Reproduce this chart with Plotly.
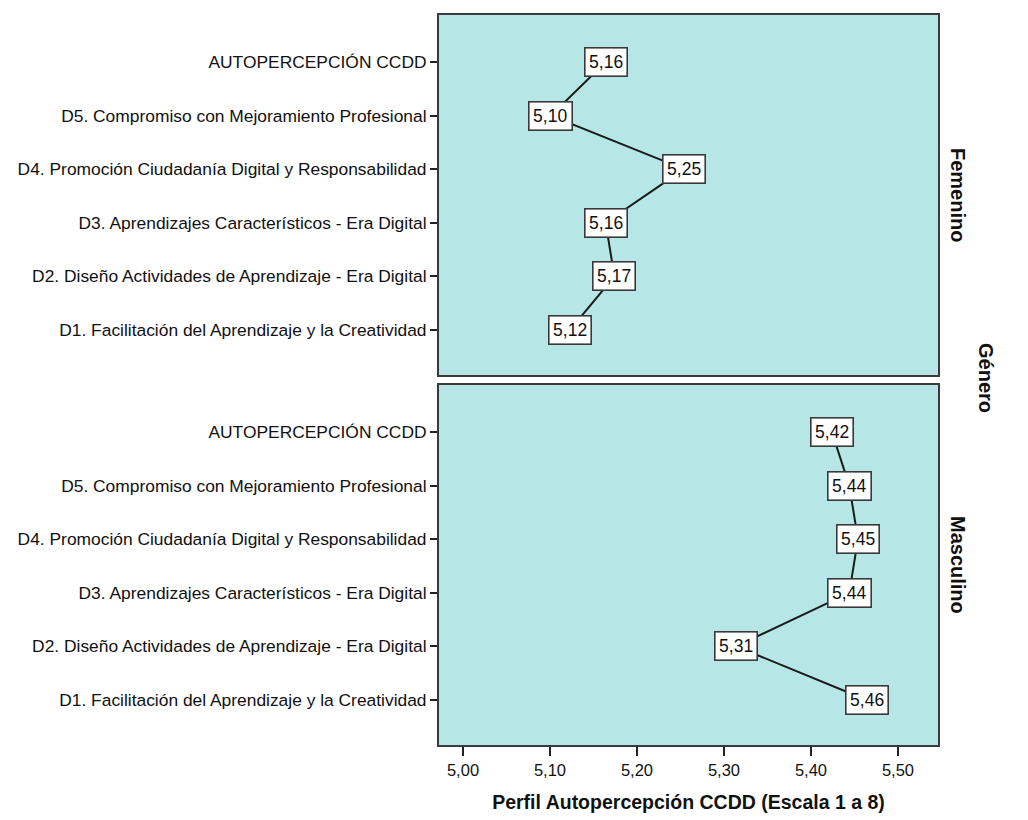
import plotly.graph_objects as go

categories = [
    "D1. Facilitación del Aprendizaje y la Creatividad",
    "D2. Diseño Actividades de Aprendizaje - Era Digital",
    "D3. Aprendizajes Característicos - Era Digital",
    "D4. Promoción Ciudadanía Digital y Responsabilidad",
    "D5. Compromiso con Mejoramiento Profesional",
    "AUTOPERCEPCIÓN CCDD",
]
# values estimated from label text and box positions
femenino = [5.123, 5.174, 5.164, 5.254, 5.101, 5.164]
masculino = [5.464, 5.314, 5.444, 5.454, 5.444, 5.424]
groups = ["Femenino", "Masculino"]
x_ticks = [5.00, 5.10, 5.20, 5.30, 5.40, 5.50]

FONT = "Liberation Sans, Arial, sans-serif"
OFF = 8  # default page body margin
W, H = 1020, 812
fig = go.Figure()

def px2x(p):
    return (p - OFF) / W

def px2y(p):
    return 1 - (p - OFF) / H

panels = [(15, 375), (385, 745)]
xdom = [px2x(439), px2x(938)]

series = [femenino, masculino]
for i, vals in enumerate(series):
    xa = "x" if i == 0 else "x2"
    ya = "y" if i == 0 else "y2"
    fig.add_trace(go.Scatter(
        x=vals, y=categories, mode="lines",
        line=dict(color="#1a1a1a", width=2),
        xaxis=xa, yaxis=ya, showlegend=False, hoverinfo="x+y",
    ))
    for v, c in zip(vals, categories):
        fig.add_annotation(
            x=v, y=c, xref=xa, yref=ya, text=f"{v:.2f}".replace(".", ","),
            showarrow=False, font=dict(family=FONT, size=17.5, color="#111"),
            bgcolor="white", bordercolor="#3a3a3a", borderwidth=1.6, borderpad=3.5,
        )

xrange = [4.9724, 5.546]
yrange = [-0.84, 5.877]
axis_common = dict(showline=True, linecolor="#3a3a3a", linewidth=2, mirror=True,
                   showgrid=False, zeroline=False)

fig.update_layout(
    width=W, height=H,
    margin=dict(l=0, r=0, t=0, b=0),
    paper_bgcolor="white", plot_bgcolor="#b6e6e6",
    font=dict(family=FONT, size=17, color="#111"),
    xaxis=dict(domain=xdom, range=xrange, anchor="y", showticklabels=False,
               ticks="", matches="x2", **axis_common),
    yaxis=dict(domain=[px2y(panels[0][1]), px2y(panels[0][0])], range=yrange,
               categoryorder="array", categoryarray=categories, anchor="x",
               ticks="outside", ticklen=7, tickwidth=2, tickcolor="#222",
               tickfont=dict(family=FONT, size=17.4, color="#111"), **axis_common),
    xaxis2=dict(domain=xdom, range=xrange, anchor="y2", tickvals=x_ticks,
                ticktext=[f"{t:.2f}".replace(".", ",") for t in x_ticks],
                ticks="outside", ticklen=9, tickwidth=2, tickcolor="#222",
                tickfont=dict(family=FONT, size=16.5, color="#111"),
                title=dict(text="<b>Perfil Autopercepción CCDD (Escala 1 a 8)</b>",
                           font=dict(family=FONT, size=19.5, color="#111"), standoff=18),
                **axis_common),
    yaxis2=dict(domain=[px2y(panels[1][1]), px2y(panels[1][0])], range=yrange,
                categoryorder="array", categoryarray=categories, anchor="x2",
                ticks="outside", ticklen=7, tickwidth=2, tickcolor="#222",
                tickfont=dict(family=FONT, size=17.4, color="#111"), **axis_common),
)

for g, (top, bot) in zip(groups, panels):
    fig.add_annotation(
        x=px2x(958), y=px2y((top + bot) / 2),
        xref="paper", yref="paper", xanchor="center", yanchor="middle",
        text=f"<b>{g}</b>", textangle=90, showarrow=False,
        font=dict(family=FONT, size=20, color="#111"),
    )
fig.add_annotation(
    x=px2x(986), y=px2y(378), xref="paper", yref="paper",
    xanchor="center", yanchor="middle",
    text="<b>Género</b>", textangle=90, showarrow=False,
    font=dict(family=FONT, size=20, color="#111"),
)

fig.write_html("out.html")
